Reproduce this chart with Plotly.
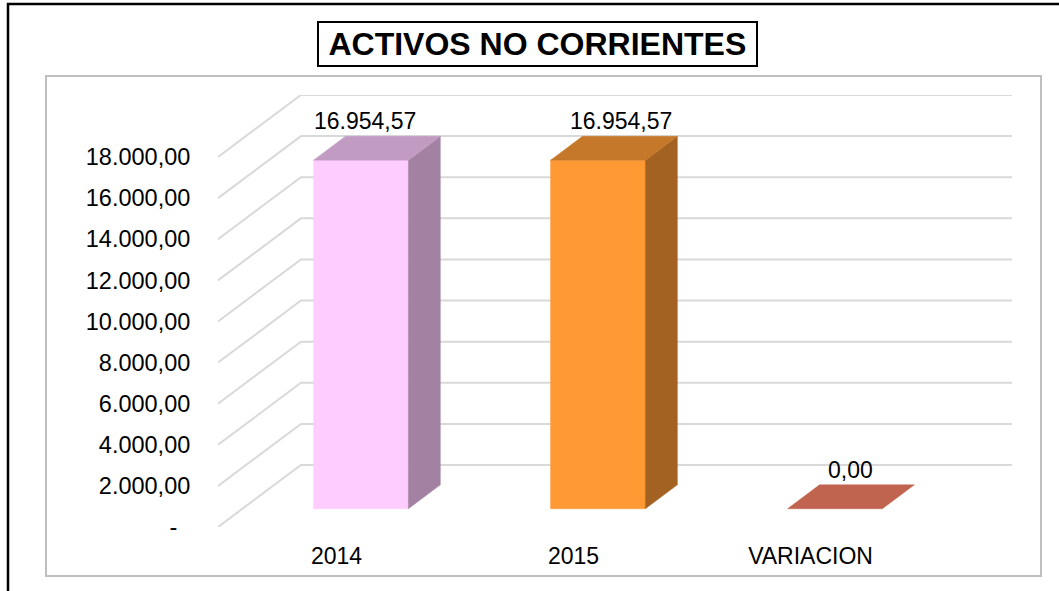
import plotly.graph_objects as go

# ---------------- data ----------------
categories = ["2014", "2015", "VARIACION"]
values = [16954.57, 16954.57, 0.00]
value_labels = ["16.954,57", "16.954,57", "0,00"]
ytick_vals = [0, 2000, 4000, 6000, 8000, 10000, 12000, 14000, 16000, 18000]
ytick_text = ["-\u00a0\u00a0", "2.000,00", "4.000,00", "6.000,00", "8.000,00",
              "10.000,00", "12.000,00", "14.000,00", "16.000,00", "18.000,00"]
title_text = "ACTIVOS NO CORRIENTES"

# ---------------- style ----------------
front_colors = ["#FFCCFF", "#FF9933", "#C0614E"]
top_colors = ["#C29BC2", "#C5782A", "#C0634F"]
side_colors = ["#A381A3", "#A36122", "#A3503F"]
label_dx = [-12, 7, 0]
FONT = "Liberation Sans, Arial, sans-serif"
GRID = "#D9D9D9"

W, H = 1059, 591
PL, PR, PT, PB = 218, 1012, 95, 527     # plot-area pixel box
n = len(categories)
DX = 0.35          # depth of the 3D box in category units
DY = 3016          # depth of the 3D box in value units
F0, F1 = 0.295, 0.68   # bar front/back position inside the depth
BW = 0.40          # bar width in category units
YTOP = max(ytick_vals) + DY


def px_x(p):
    return (p - PL) / (PR - PL)


def px_y(p):
    return (PB - p) / (PB - PT)


def face(xs, ys, color):
    fig.add_trace(go.Scatter(x=xs + [xs[0]], y=ys + [ys[0]], mode="lines", fill="toself",
                             fillcolor=color, line=dict(width=0.5, color=color),
                             hoverinfo="skip", showlegend=False))


fig = go.Figure()

# gridlines: side wall diagonals + back wall horizontals
gx, gy = [], []
for v in ytick_vals:
    gx += [-0.5, -0.5 + DX, n - 0.5 + DX, None]
    gy += [v, v + DY, v + DY, None]
fig.add_trace(go.Scatter(x=gx, y=gy, mode="lines", line=dict(color=GRID, width=2),
                         hoverinfo="skip", showlegend=False))

# bars: front, side and top faces
for i, v in enumerate(values):
    xl0, xr0 = i - BW / 2 + F0 * DX, i + BW / 2 + F0 * DX
    xl1, xr1 = i - BW / 2 + F1 * DX, i + BW / 2 + F1 * DX
    y0b, y1b = F0 * DY, F1 * DY
    if v > 0:
        face([xl0, xr0, xr0, xl0], [y0b, y0b, v + y0b, v + y0b], front_colors[i])
        face([xr0, xr1, xr1, xr0], [y0b, y1b, v + y1b, v + y0b], side_colors[i])
    face([xl0, xr0, xr1, xl1], [v + y0b, v + y0b, v + y1b, v + y1b], top_colors[i])
    fig.add_annotation(x=i + (F0 + F1) / 2 * DX, y=v + F1 * DY, text=value_labels[i],
                       showarrow=False, yanchor="bottom", xanchor="center",
                       xshift=label_dx[i], font=dict(family=FONT, size=23, color="#000000"))

fig.update_xaxes(range=[-0.5, n - 0.5 + DX], tickvals=list(range(n)), ticktext=categories,
                 showgrid=False, zeroline=False, showline=False, ticks="outside",
                 ticklen=8, tickcolor="rgba(0,0,0,0)",
                 tickfont=dict(family=FONT, size=23, color="#000000"), fixedrange=True)
fig.update_yaxes(range=[0, YTOP], tickvals=ytick_vals, ticktext=ytick_text,
                 showgrid=False, zeroline=False, showline=False, ticks="outside",
                 ticklen=22, tickcolor="rgba(0,0,0,0)",
                 tickfont=dict(family=FONT, size=23.5, color="#000000"), fixedrange=True)

shapes = [
    dict(type="rect", xref="paper", yref="paper", x0=px_x(8), x1=px_x(1100),
         y0=px_y(640), y1=px_y(4), line=dict(color="#000000", width=2.5), layer="below"),
    dict(type="rect", xref="paper", yref="paper", x0=px_x(46), x1=px_x(1041),
         y0=px_y(576), y1=px_y(76), line=dict(color="#BFBFBF", width=2), layer="below"),
]

fig.add_annotation(xref="paper", yref="paper", x=px_x(537.5), y=px_y(44),
                   text="<b>\u2009" + title_text + "\u2009</b>", showarrow=False,
                   xanchor="center", yanchor="middle",
                   font=dict(family=FONT, size=32, color="#000000"),
                   bordercolor="#000000", borderwidth=2, borderpad=3, bgcolor="#FFFFFF")

fig.update_layout(width=W, height=H, autosize=False,
                  margin=dict(l=PL, r=W - PR, t=PT, b=H - PB, pad=0),
                  paper_bgcolor="#FFFFFF", plot_bgcolor="rgba(0,0,0,0)",
                  showlegend=False, shapes=shapes)

fig.write_html("out.html", config={"displayModeBar": False},
               post_script="document.body.style.margin='0px';")
